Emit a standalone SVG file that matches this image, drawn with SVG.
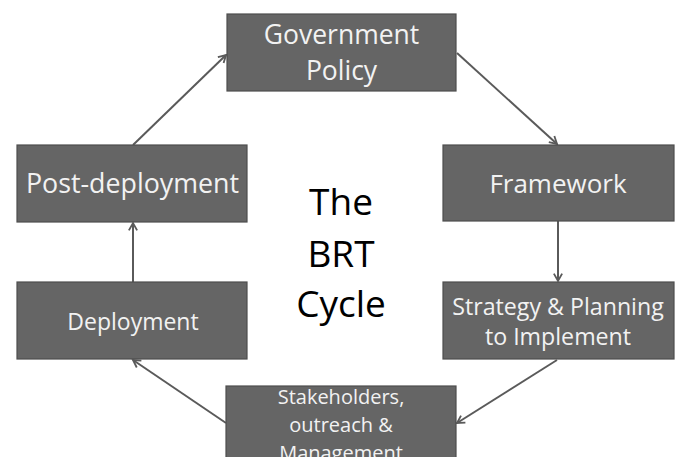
<svg xmlns="http://www.w3.org/2000/svg" width="676" height="457" viewBox="0 0 676 457">
  <defs>
    <style>
      .box { fill: #656565; stroke: #4e4e4e; stroke-width: 1.2; }
      .lbl { fill: #f2f2f2; font-family: "Open Sans", "Liberation Sans", sans-serif; text-anchor: middle; }
      .title { fill: #000; font-family: "Open Sans", "Liberation Sans", sans-serif; font-size: 37px; text-anchor: middle; }
      .conn { stroke: #5a5a5a; stroke-width: 2; fill: none; marker-end: url(#head); }
    </style>
    <marker id="head" viewBox="0 0 12 12" refX="10" refY="6" markerWidth="5.5" markerHeight="5.5" markerUnits="strokeWidth" orient="auto">
      <polyline points="2,1.5 10,6 2,10.5" fill="none" stroke="#5a5a5a" stroke-width="2"/>
    </marker>
  </defs>
  <rect width="676" height="457" fill="#ffffff"/>

  <g id="connectors">
    <line class="conn" x1="133" y1="145" x2="226" y2="55"/>
    <line class="conn" x1="457" y1="53" x2="557" y2="144"/>
    <line class="conn" x1="558" y1="221" x2="558" y2="281"/>
    <line class="conn" x1="557" y1="360" x2="457" y2="423"/>
    <line class="conn" x1="226" y1="423" x2="133" y2="360"/>
    <line class="conn" x1="133" y1="282" x2="133" y2="223"/>
  </g>

  <g id="government-policy">
    <rect class="box" x="227" y="14" width="229" height="77"/>
    <text class="lbl" x="341.5" y="44" font-size="26.5">Government</text>
    <text class="lbl" x="341.5" y="80" font-size="26.5">Policy</text>
  </g>

  <g id="framework">
    <rect class="box" x="443" y="145" width="231" height="76"/>
    <text class="lbl" x="558" y="193" font-size="26">Framework</text>
  </g>

  <g id="strategy-planning">
    <rect class="box" x="443" y="282" width="231" height="77"/>
    <text class="lbl" x="558" y="315" font-size="23.2">Strategy &amp; Planning</text>
    <text class="lbl" x="558" y="345" font-size="23.2">to Implement</text>
  </g>

  <g id="stakeholders">
    <rect class="box" x="226" y="386" width="230" height="80"/>
    <text class="lbl" x="341" y="404" font-size="20">Stakeholders,</text>
    <text class="lbl" x="341" y="432" font-size="20">outreach &amp;</text>
    <text class="lbl" x="341" y="460" font-size="20">Management</text>
  </g>

  <g id="deployment">
    <rect class="box" x="17" y="282" width="230" height="77"/>
    <text class="lbl" x="133" y="330" font-size="23">Deployment</text>
  </g>

  <g id="post-deployment">
    <rect class="box" x="17" y="145" width="230" height="77"/>
    <text class="lbl" x="132.5" y="193" font-size="26.8">Post-deployment</text>
  </g>

  <g id="title">
    <text class="title" x="341" y="215">The</text>
    <text class="title" x="341" y="267">BRT</text>
    <text class="title" x="341" y="317">Cycle</text>
  </g>
</svg>
